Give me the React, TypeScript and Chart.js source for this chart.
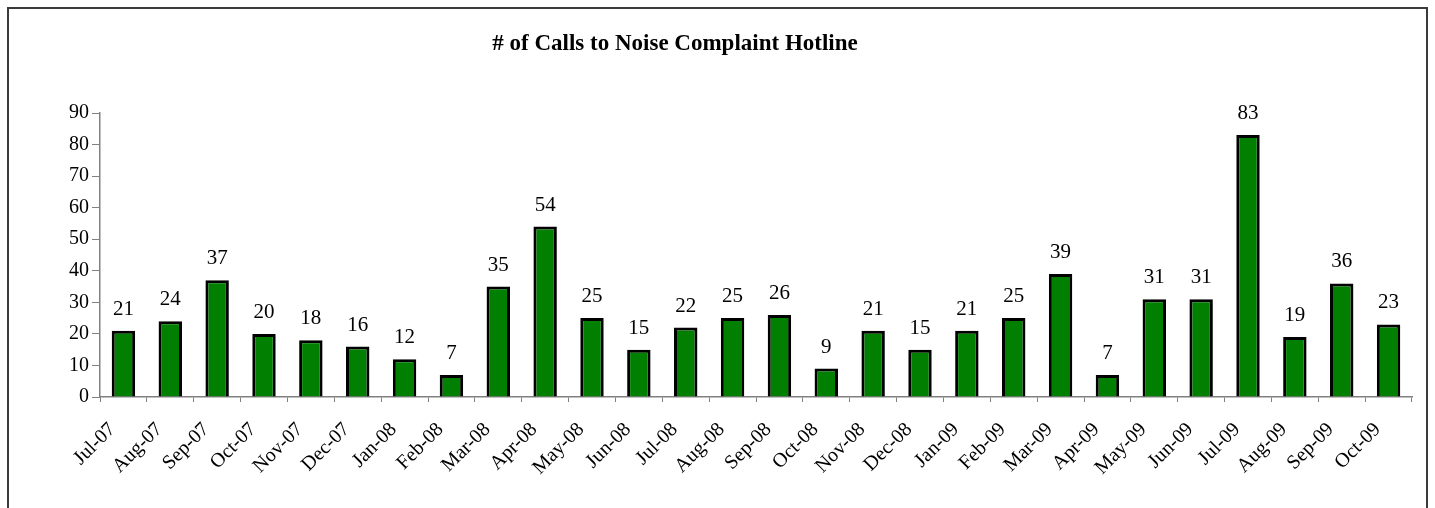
import React, { useEffect, useRef } from "react";
import { Chart, registerables } from "chart.js";

Chart.register(...registerables);

const chartTitle = "# of Calls to Noise Complaint Hotline";
const months = [
  "Jul-07", "Aug-07", "Sep-07", "Oct-07", "Nov-07", "Dec-07", "Jan-08", "Feb-08",
  "Mar-08", "Apr-08", "May-08", "Jun-08", "Jul-08", "Aug-08", "Sep-08", "Oct-08",
  "Nov-08", "Dec-08", "Jan-09", "Feb-09", "Mar-09", "Apr-09", "May-09", "Jun-09",
  "Jul-09", "Aug-09", "Sep-09", "Oct-09",
];
const calls = [21, 24, 37, 20, 18, 16, 12, 7, 35, 54, 25, 15, 22, 25, 26, 9, 21, 15, 21, 25, 39, 7, 31, 31, 83, 19, 36, 23];
const yMin = 0;
const yMax = 90;
const yStep = 10;

const FONT = "'Liberation Serif', 'Times New Roman', serif";

const labelPlugin = {
  id: "valueLabels",
  afterDatasetsDraw(chart: any) {
    const ctx = chart.ctx;
    const meta = chart.getDatasetMeta(0);
    ctx.save();
    ctx.font = `21px ${FONT}`;
    ctx.fillStyle = "#000";
    ctx.textAlign = "center";
    ctx.textBaseline = "alphabetic";
    meta.data.forEach((bar: any, i: number) => {
      ctx.fillText(String(calls[i]), bar.x, bar.y - 16);
    });
    ctx.restore();
  },
};

const titlePlugin = {
  id: "customTitle",
  afterDraw(chart: any) {
    const ctx = chart.ctx;
    ctx.save();
    ctx.font = `bold 23px ${FONT}`;
    ctx.fillStyle = "#000";
    ctx.textAlign = "center";
    ctx.textBaseline = "middle";
    ctx.fillText(chartTitle, 675, 44);
    ctx.restore();
  },
};

export default function App() {
  const ref = useRef<HTMLCanvasElement | null>(null);
  useEffect(() => {
    if (!ref.current) return;
    const chart = new Chart(ref.current, {
      type: "bar",
      data: {
        labels: months,
        datasets: [
          {
            data: calls,
            backgroundColor: "#007F00",
            borderColor: "#000000",
            borderWidth: 3,
            barPercentage: 0.5,
            categoryPercentage: 1,
          },
        ],
      },
      options: {
        animation: false,
        responsive: false,
        layout: { padding: { top: 113, right: 23, left: 0, bottom: 0 } },
        plugins: {
          legend: { display: false },
          title: { display: false },
          tooltip: { enabled: false },
        },
        scales: {
          x: {
            offset: true,
            grid: {
              display: true,
              drawOnChartArea: false,
              drawTicks: true,
              tickLength: 5,
              color: "#808080",
              offset: true,
            },
            border: { display: true, color: "#808080", width: 1.5 },
            ticks: {
              color: "#000",
              font: { family: FONT, size: 20 },
              minRotation: 45,
              maxRotation: 45,
              autoSkip: false,
              padding: 16,
              labelOffset: -11,
            },
            afterFit: (s: any) => {
              s.height = 111;
            },
          },
          y: {
            min: yMin,
            max: yMax,
            grid: {
              display: true,
              drawOnChartArea: false,
              drawTicks: true,
              tickLength: 8,
              color: "#808080",
            },
            border: { display: true, color: "#808080", width: 1.5 },
            ticks: {
              stepSize: yStep,
              color: "#000",
              font: { family: FONT, size: 20 },
              padding: 3,
            },
            afterFit: (s: any) => {
              s.width = 100;
            },
          },
        },
      },
      plugins: [labelPlugin, titlePlugin],
    });
    return () => chart.destroy();
  }, []);

  return (
    <div style={{ position: "fixed", left: 0, top: 0, width: 1435, height: 508, background: "#fff", overflow: "hidden" }}>
      <canvas ref={ref} width={1435} height={508} style={{ position: "absolute", left: 0, top: 0 }} />
      <div
        style={{
          position: "absolute",
          left: 7,
          top: 7,
          width: 1421,
          height: 501,
          border: "2px solid #3a3a3a",
          borderBottom: "none",
          boxSizing: "border-box",
          pointerEvents: "none",
        }}
      />
    </div>
  );
}
